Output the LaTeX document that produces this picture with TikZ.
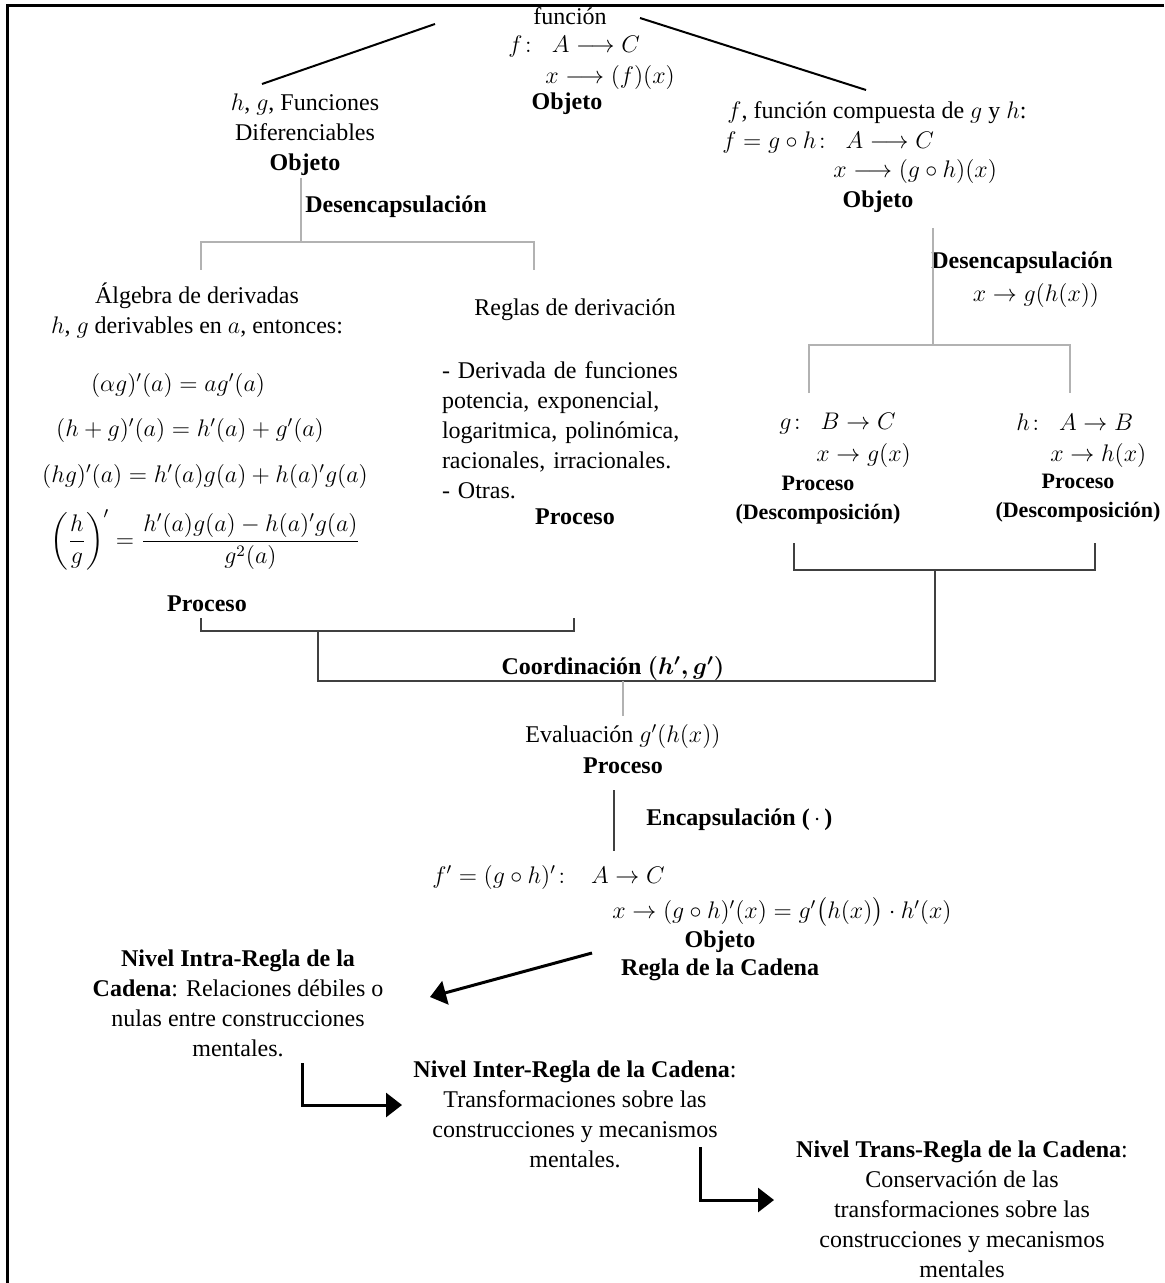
\documentclass[tikz,border=0pt]{standalone}
\usepackage{fontspec}
\setmainfont{Liberation Serif}
\usepackage{amsmath}
\usepackage{tikz}
\usetikzlibrary{arrows.meta}

\begin{document}
\begin{tikzpicture}[x=0.5pt,y=-0.5pt]
\tikzstyle{every node}=[inner sep=0pt, font=\fontsize{12}{15}\selectfont]
\tikzstyle{desc}=[align=center, font=\fontsize{11}{14.5}\selectfont\bfseries]
\tikzstyle{diag}=[black, line width=1pt]
\tikzstyle{rama}=[gray!60, line width=0.8pt]
\tikzstyle{llave}=[black!75, line width=0.6pt]
\tikzstyle{flecha}=[line width=1.5pt, -{Triangle[length=8pt,width=12pt]}]
\useasboundingbox (0,0) rectangle (1164,1283);
%marco
\coordinate (fr0) at (7,6); \coordinate (fr1) at (1164,6); \coordinate (fr2) at (7,1283);
\draw[line width=1.5pt] (fr1) -- (fr0) -- (fr2);

% funcion f
\node (fun) at (570,16) {función};
\node[anchor=west] (funA) at (508,47) {$f\colon\ \ A \longrightarrow C$};
\node[anchor=west] (funx) at (545,78) {$x \longrightarrow (f)(x)$};
\node (funobj) at (567,104) {\textbf{Objeto}};

\node[align=center] (hg) at (305,135) {$h$, $g$, Funciones\\Diferenciables\\\textbf{Objeto}};
\node[anchor=west] (desL) at (305,207) {\textbf{Desencapsulación}};

\node (fcomp) at (877,113) {$f$, función compuesta de $g$ y $h$:};
\node[anchor=west] (fcompA) at (722,143) {$f = g\circ h\colon\ \ A \longrightarrow C$};
\node[anchor=west] (fcompx) at (833,172) {$x \longrightarrow (g\circ h)(x)$};
\node (fcompobj) at (878,202) {\textbf{Objeto}};
\node (desR) at (1022,263) {\textbf{Desencapsulación}};
\node (desRx) at (1036,295) {$x \to g(h(x))$};

% algebra de derivadas
\node[align=center] (alg) at (197,311) {Álgebra de derivadas\\$h$, $g$ derivables en $a$, entonces:};
\node (eq1) at (178,385) {$(\alpha g)'(a) = a g'(a)$};
\node (eq2) at (190,430) {$(h+g)'(a) = h'(a) + g'(a)$};
\node (eq3) at (205,476) {$(hg)'(a) = h'(a)g(a) + h(a)'g(a)$};
\node (eq4) at (205,540) {$\left(\dfrac{h}{g}\right)' = \dfrac{h'(a)g(a) - h(a)'g(a)}{g^2(a)}$};
\node (algproc) at (207,604) {\textbf{Proceso}};

% reglas
\node (reg) at (575,310) {Reglas de derivación};
\node[text width=133pt, align=left] (regtxt) at (575,430) {\makebox[133pt][s]{- Derivada de funciones}\\
  \makebox[133pt][s]{potencia, exponencial,}\\
  \makebox[133pt][s]{logaritmica, polinómica,}\\
  racionales, irracionales.\\
  - Otras.};
\node (regproc) at (575,517) {\textbf{Proceso}};

% g y h
\node[anchor=west] (gA) at (779,424) {$g\colon\ \ B \to C$};
\node[anchor=west] (gx) at (816,455) {$x \to g(x)$};
\node[desc] (gproc) at (818,500) {Proceso\\(Descomposición)};
\node[anchor=west] (hA) at (1016,422) {$h\colon\ \ A \to B$};
\node[anchor=west] (hx) at (1050,455) {$x \to h(x)$};
\node[desc] (hproc) at (1078,498) {Proceso\\(Descomposición)};

\node (coord) at (613,668) {\textbf{Coordinación \boldmath$(h', g')$}};
\node (eval) at (623,736) {Evaluación $g'(h(x))$};
\node (evalproc) at (623,766) {\textbf{Proceso}};
\node[anchor=west] (encap) at (646,820) {\textbf{Encapsulación ($\,\cdot\,$)}};

\node[anchor=west] (fpA) at (432,877) {$f' = (g\circ h)'\colon\ \ \ A \to C$};
\node[anchor=west] (fpx) at (612,912) {$x \to (g\circ h)'(x) = g'\big(h(x)\big)\cdot h'(x)$};
\node (fpobj) at (720,942) {\textbf{Objeto}};
\node (cadena) at (720,970) {\textbf{Regla de la Cadena}};

% niveles
\node[align=center] (intra) at (238,1003) {\textbf{Nivel Intra-Regla de la}\\\textbf{Cadena}: Relaciones débiles o\\nulas entre construcciones\\mentales.};
\node[align=center] (inter) at (575,1114) {\textbf{Nivel Inter-Regla de la Cadena}:\\Transformaciones sobre las\\construcciones y mecanismos\\mentales.};
\node[align=center] (trans) at (962,1209) {\textbf{Nivel Trans-Regla de la Cadena}:\\Conservación de las\\transformaciones sobre las\\construcciones y mecanismos\\mentales};

% lineas
\coordinate (d1) at (262,84); \coordinate (d2) at (435,24);
\coordinate (d3) at (640,18); \coordinate (d4) at (866,90);
\draw[diag] (d1) -- (d2);
\draw[diag] (d3) -- (d4);

\coordinate (b1t) at (301,178); \coordinate (b1) at (301,242);
\coordinate (b1l) at (201,270); \coordinate (b1r) at (534,270);
\draw[rama] (b1t) -- (b1);
\draw[rama] (b1l) -- (b1l |- b1) -- (b1r |- b1) -- (b1r);

\coordinate (b2t) at (933,228); \coordinate (b2) at (933,345);
\coordinate (b2l) at (809,393); \coordinate (b2r) at (1070,393);
\draw[rama] (b2t) -- (b2);
\draw[rama] (b2l) -- (b2l |- b2) -- (b2r |- b2) -- (b2r);

\coordinate (b3) at (935,570); \coordinate (b3l) at (794,543); \coordinate (b3r) at (1095,543);
\draw[llave] (b3l) -- (b3l |- b3) -- (b3r |- b3) -- (b3r);
\coordinate (b4) at (318,631); \coordinate (b4l) at (201,618); \coordinate (b4r) at (574,618);
\draw[llave] (b4l) -- (b4l |- b4) -- (b4r |- b4) -- (b4r);
\coordinate (b5) at (623,681); \coordinate (b5b) at (623,716);
\draw[llave] (b4) -- (b4 |- b5) -- (b3 |- b5) -- (b3);
\draw[rama] (b5) -- (b5b);

\coordinate (e1) at (614,790); \coordinate (e2) at (614,851);
\draw[llave] (e1) -- (e2);

% flechas
\coordinate (a1) at (592,953); \coordinate (a1f) at (430,997);
\draw[flecha] (a1) -- (a1f);
\coordinate (a2) at (302,1063); \coordinate (a2f) at (402,1105);
\draw[flecha] (a2) |- (a2f);
\coordinate (a3) at (700,1147); \coordinate (a3f) at (774,1200);
\draw[flecha] (a3) |- (a3f);
\end{tikzpicture}
\end{document}
